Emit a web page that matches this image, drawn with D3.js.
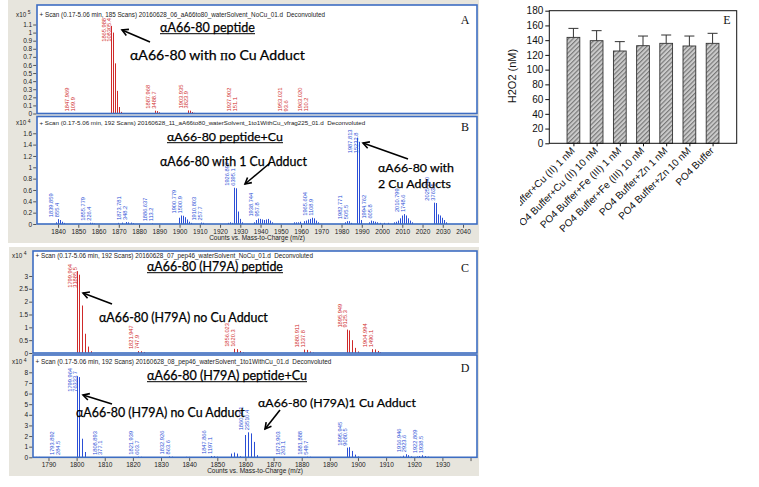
<!DOCTYPE html>
<html><head><meta charset="utf-8">
<script src="https://cdn.jsdelivr.net/npm/d3@7"></script>
<style>body{margin:0;background:#fff}svg{display:block}</style>
</head><body><svg id="c" width="759" height="487"></svg>
<script>
// ---------------- DATA ----------------
// Panel A (x10^5 counts)
const mzA = [1847.969,1865.988,1866.99,1867.99,1868.99,1869.99,1870.99,1887.968,1888.97,1889.97,1903.935,1904.94,1905.94,1906.94,1927.902,1953.021,1963.020];
const countsA = [0.0011,1.0831,1.0,0.62,0.28,0.08,0.02,0.0349,0.03,0.015,0.0382,0.035,0.018,0.008,0.0015,0.0009,0.0011];
const labelsA = [["1847.969","109.9"],["1865.988","108305.4"],["1887.968","3488.7"],["1903.935","3823.9"],["1927.902","151.1"],["1953.021","93.6"],["1963.020","110.2"]];
// Panel B (x10^4 counts)
const mzB = [1838.86,1839.859,1840.86,1841.86,1842.86, 1855.779,1856.78,1857.78, 1869.78,1871.78,1873.781,1874.78,1875.78,1876.78, 1886.637,
  1899.78,1900.779,1901.78,1902.78,1903.78,1904.78,1905.78, 1910.803,1911.8, 1923.9,1924.9,1925.9, 1926.897,1927.9,1928.9,1929.9,1930.9,
  1936.74,1937.74,1938.744,1939.74,1940.74,1941.74,1942.74,1943.74,1944.74,1945.74,
  1956.6,1957.6,1958.6,1959.6,1961.6,1962.6,1963.6,1964.6,1965.604,1966.6,1967.6,1968.6,
  1981.77,1982.771,1983.77,1984.77, 1987.813,1988.81,1989.81, 1993.76,1994.762,1995.76,1996.76,1997.76,1998.76,2000.8,2002.8,
  2005.8,2006.8,2007.8,2008.8,2009.8,2010.799,2011.8,2012.8,2013.8,2014.8, 2025.76,2026.76,2027.76,2028.76,2029.76,2030.76,2031.76];
const countsB = [0.03,0.0855,0.07,0.04,0.02, 0.0226,0.02,0.01, 0.02,0.025,0.0348,0.03,0.025,0.015, 0.0113,
  0.11,0.1501,0.145,0.12,0.08,0.04,0.02, 0.0258,0.02, 0.02,0.03,0.02, 0.6395,0.63,0.22,0.09,0.03,
  0.03,0.07,0.0958,0.09,0.08,0.07,0.08,0.09,0.06,0.03,
  0.03,0.03,0.03,0.04,0.05,0.06,0.08,0.09,0.1109,0.1,0.06,0.03,
  0.03,0.0506,0.05,0.02, 1.5233,1.45,0.07, 0.03,0.0606,0.05,0.04,0.03,0.02,0.02,0.02,
  0.03,0.04,0.06,0.1,0.15,0.1749,0.15,0.1,0.06,0.03, 0.3763,0.37,0.17,0.15,0.11,0.07,0.03];
const labelsB = [["1839.859","855.4"],["1855.779","226.4"],["1873.781","348.2"],["1886.637","113.2"],["1900.779","1500.9"],["1910.803","257.7"],
  ["1926.897","6395.1"],["1938.744","957.8"],["1965.604","1108.9"],["1982.771","505.5"],["1987.813","15232.8"],["1994.762","605.8"],
  ["2010.799","1748.6"],["2025.760","3763.5"]];
// Panel C (x10^4 counts)
const mzC = [1799.964,1800.967,1801.97,1802.97,1803.97,1804.97, 1821.947,1822.95,1823.95, 1856.023,1857.02,1858.02,1859.02,
  1880.911,1881.91,1882.91,1883.91, 1895.949,1896.95,1897.95,1898.95,1899.95, 1904.994,1905.99,1906.99,1907.99];
const countsC = [3.1886,3.05,1.85,0.75,0.25,0.07, 0.0748,0.07,0.04, 0.162,0.15,0.08,0.03,
  0.1338,0.12,0.06,0.02, 0.9125,0.88,0.5,0.2,0.06, 0.149,0.14,0.08,0.03];
const labelsC = [["1799.964","31885.5"],["1821.947","747.9"],["1856.023","1620.3"],["1880.911","1337.8"],["1895.949","9125.3"],["1904.994","1490.1"]];
// Panel D (x10^4 counts)
const mzD = [1785.5,1786.5, 1793.892,1794.9, 1799.964,1800.97,1801.97,1802.97, 1808.893,1809.9, 1821.939,1822.94, 1832.926,1833.93,
  1838.9,1839.9, 1847.866,1848.87,1849.87, 1854.9,1855.9,1856.9,1857.9, 1859.95,1860.951,1861.95,1862.95,1863.95,
  1873.903,1874.9, 1881.888,1882.89, 1895.945,1896.95,1897.95,1898.95,1899.95, 1905.9,
  1914.95,1915.95,1916.946,1917.95,1918.95, 1920.8,1921.8,1922.809,1923.8,1924.8,1925.8, 1938.9];
const countsD = [0.04,0.04, 0.0285,0.02, 7.6334,7.55,1.75,0.5, 0.0377,0.03, 0.0604,0.05, 0.0864,0.06,
  0.05,0.04, 0.1197,0.1,0.06, 0.35,0.45,0.35,0.1, 2.1,2.3510,2.25,1.45,0.2,
  0.0263,0.02, 0.055,0.05, 0.908,0.95,0.6,0.25,0.08, 0.03,
  0.05,0.15,0.2924,0.2,0.08, 0.08,0.12,0.1939,0.12,0.06,0.03, 0.03];
const labelsD = [["1793.892","284.5"],["1799.964","76333.7"],["1808.893","377.1"],["1821.939","603.7"],["1832.926","863.6"],["1847.866","1197.1"],
  ["1860.951","23510.4"],["1873.903","263.1"],["1881.888","549.7"],["1895.945","9080.5"],["1916.946","2923.6"],["1922.809","1938.5"]];
// tick labels
const xTicksTop = [1840,1850,1860,1870,1880,1890,1900,1910,1920,1930,1940,1950,1960,1970,1980,1990,2000,2010,2020,2030,2040];
const xTicksBottom = [1790,1800,1810,1820,1830,1840,1850,1860,1870,1880,1890,1900,1910,1920,1930,1940];
const yTicksA = [0,0.1,0.2,0.3,0.4,0.5,0.6,0.7,0.8,0.9,1,1.1];
const yTicksB = [0,0.2,0.4,0.6,0.8,1,1.2,1.4,1.6];
const yTicksC = [0,0.5,1,1.5,2,2.5,3];
const yTicksD = [0,1,2,3,4,5,6,7,8];
// Panel E
const categoriesE = ["PO4 Buffer+Cu (II) 1 nM","PO4 Buffer+Cu (II) 10 nM","PO4 Buffer+Fe (III) 1 nM","PO4 Buffer+Fe (III) 10 nM","PO4 Buffer+Zn 1 nM","PO4 Buffer+Zn 10 nM","PO4 Buffer"];
const valuesE = [143.8,139.3,125.3,132.5,135.7,132.1,135.7];
const errorsE = [12.2,13.6,12.7,13.1,11.3,13.5,13.6];
const yTicksE = [0,20,40,60,80,100,120,140,160,180];

// ---------------- DRAW ----------------
const svg = d3.select("#c");
const FMS = "'Liberation Sans', Arial, sans-serif";
const FNOTE = "Lato, 'Noto Sans', sans-serif";
const FSERIF = "'Liberation Serif', 'Times New Roman', serif";
const BLUE = "#3d6dc2";
svg.append("rect").attr("width",759).attr("height",487).attr("fill","#fff");
svg.append("rect").attr("x",8).attr("y",0).attr("width",471).attr("height",243).attr("fill","#e7e5dd");
svg.append("rect").attr("x",9).attr("y",247).attr("width",470).attr("height",229).attr("fill","#e7e5dd");
const defs = svg.append("defs");

function fit(sel, width){
  const len = sel.node().getComputedTextLength();
  const fs = parseFloat(sel.attr("font-size"));
  if (len > 0) sel.attr("font-size", (fs*width/len).toFixed(2));
}

function drawMS(p){
  const x = d3.scaleLinear().domain(p.xDomain).range([p.left,p.right]);
  const y = d3.scaleLinear().domain([0,p.yMax]).range([p.bottom,p.top]);
  const g = svg.append("g");
  g.append("rect").attr("x",p.left).attr("y",p.top).attr("width",p.right-p.left).attr("height",p.bottom-p.top).attr("fill","#fff");
  defs.append("clipPath").attr("id","clip"+p.letter).append("rect")
    .attr("x",p.left).attr("y",p.top).attr("width",p.right-p.left).attr("height",p.bottom-p.top);
  const plot = g.append("g").attr("clip-path",`url(#clip${p.letter})`);
  plot.selectAll("line.pk").data(d3.zip(p.mz,p.counts)).join("line").attr("class","pk")
    .attr("x1",d=>Math.round(x(d[0]))+0.5).attr("x2",d=>Math.round(x(d[0]))+0.5)
    .attr("y1",y(0)).attr("y2",d=>y(d[1])).attr("stroke",p.color).attr("stroke-width",1);
  p.labels.forEach(([m,c])=>{
    const px = x(+m), py = y(+c/p.scale);
    const t1 = plot.append("text").text(m), t2 = plot.append("text").text(c);
    [t1,t2].forEach(t=>t.attr("font-family",FMS).attr("font-size",5.7).attr("fill",p.color));
    const len = Math.max(t1.node().getComputedTextLength(), t2.node().getComputedTextLength());
    let b = py - 2;
    if (b - len < p.top + 13) b = p.top + 13 + len;
    t1.attr("transform",`translate(${px-5},${b}) rotate(-90)`);
    t2.attr("transform",`translate(${px+0.8},${b}) rotate(-90)`);
  });
  const h = g.append("text").attr("x",p.left+2.5).attr("y",p.headerY).attr("font-family",FMS).attr("font-size",6.3)
    .attr("fill","#222").attr("xml:space","preserve").text(p.header);
  fit(h, p.headerEnd - p.left - 2.5);
  g.append("rect").attr("x",p.left).attr("y",p.top).attr("width",p.right-p.left).attr("height",p.bottom-p.top)
    .attr("fill","none").attr("stroke",BLUE).attr("stroke-width",1.6);
  g.append("text").attr("x",465).attr("y",p.letterY).attr("text-anchor","middle").attr("font-family",FSERIF)
    .attr("font-size",12).attr("fill","#111").text(p.letter);
  const ya = d3.axisLeft(y).tickValues(p.yTicks).tickSize(3).tickPadding(1).tickFormat(d=>String(d));
  const yg = g.append("g").attr("transform",`translate(${p.left-0.8},0)`).call(ya);
  yg.select(".domain").remove();
  yg.selectAll("text").attr("font-size",6.5).attr("font-family",FMS).attr("fill","#222");
  yg.selectAll("line").attr("stroke","#555");
  const ex = g.append("text").attr("x",p.left-21).attr("y",p.headerY).attr("font-family",FMS).attr("font-size",6.3).attr("fill","#222");
  ex.append("tspan").text("x10");
  ex.append("tspan").attr("dx",1.5).attr("dy",-2.5).attr("font-size",5).text(p.exp);
  if (p.xTicks){
    const xa = d3.axisBottom(x).tickValues(p.xTicks).tickSize(3).tickPadding(1.5).tickFormat(d=>p.xTickLabelMax && d>p.xTickLabelMax ? "" : String(d));
    const xg = g.append("g").attr("transform",`translate(0,${p.bottom+0.8})`).call(xa);
    xg.select(".domain").remove();
    xg.selectAll("text").attr("font-size",6.5).attr("font-family",FMS).attr("fill","#222");
    xg.selectAll("line").attr("stroke","#555");
    g.append("text").attr("x",(p.left+p.right)/2).attr("y",p.bottom+16).attr("text-anchor","middle")
      .attr("font-family",FMS).attr("font-size",6.5).attr("fill","#222").text("Counts vs. Mass-to-Charge (m/z)");
  }
}

const topDomain = [1829.6, 2046.9];
const botDomain = [1784.5, 1942.3];
drawMS({letter:"A",left:37,right:477,top:5,bottom:113.5,xDomain:topDomain,yMax:(113.5-5)/80.9,yTicks:yTicksA,scale:1e5,exp:"5",
  mz:mzA,counts:countsA,labels:labelsA,color:"#cf2a2a",headerY:16.5,headerEnd:325,letterY:24,
  header:"+ Scan (0.17-5.06 min, 185 Scans) 20160628_06_aA66to80_waterSolvent_NoCu_01.d  Deconvoluted"});
drawMS({letter:"B",left:37,right:477,top:116.5,bottom:224,xDomain:topDomain,yMax:(224-116.5)/56.7,yTicks:yTicksB,scale:1e4,exp:"4",
  mz:mzB,counts:countsB,labels:labelsB,color:"#2b4fd6",headerY:125,headerEnd:365,letterY:131,xTicks:xTicksTop,
  header:"+ Scan (0.17-5.06 min, 192 Scans) 20160628_11_aA66to80_waterSolvent_1to1WithCu_vfrag225_01.d  Deconvoluted"});
drawMS({letter:"C",left:33,right:477,top:251,bottom:353,xDomain:botDomain,yMax:(353-251)/25.67,yTicks:yTicksC,scale:1e4,exp:"4",
  mz:mzC,counts:countsC,labels:labelsC,color:"#cf2a2a",headerY:257.5,headerEnd:313,letterY:271.5,
  header:"+ Scan (0.17-5.06 min, 192 Scans) 20160628_07_pep46_waterSolvent_NoCu_01.d  Deconvoluted"});
drawMS({letter:"D",left:33,right:477,top:355,bottom:457.3,xDomain:botDomain,yMax:(457.3-355)/10.625,yTicks:yTicksD,scale:1e4,exp:"4",
  mz:mzD,counts:countsD,labels:labelsD,color:"#2b4fd6",headerY:364,headerEnd:331,letterY:372,xTicks:xTicksBottom,xTickLabelMax:1930,
  header:"+ Scan (0.17-5.06 min, 192 Scans) 20160628_08_pep46_waterSolvent_1to1WithCu_01.d  Deconvoluted"});

// annotations
const notes = [
  {parts:["αA66-80 peptide"],x:160,w:95,y:31.5,u:true},
  {parts:["αA66-80 with ",["п"],"o Cu Adduct"],x:130,w:175,y:59.5},
  {parts:["αA66-80 peptide+Cu"],x:167,w:116,y:140.5,u:true},
  {parts:["αA66-80 with 1 Cu Adduct"],x:160,w:147,y:165.5},
  {parts:["αA66-80 with"],x:378,w:76,y:171.5},
  {parts:["2 Cu Adducts"],x:378,w:73,y:187.5},
  {parts:["αA66-80 (H79A) peptide"],x:147,w:136,y:270.5,u:true},
  {parts:["αA66-80 (H79A) no Cu Adduct"],x:99,w:169,y:321.5},
  {parts:["αA66-80 (H79A) peptide+Cu"],x:147,w:160,y:379.5,u:true},
  {parts:["αA66-80 (H79A) no Cu Adduct"],x:76,w:169,y:416.5},
  {parts:["αA66-80 (H79A)1 Cu Adduct"],x:258,w:158,y:406.5}
];
notes.forEach(n=>{
  const t = svg.append("text").attr("x",n.x).attr("y",n.y).attr("font-family",FNOTE).attr("font-size",14).attr("fill","#000")
    .attr("stroke","#000").attr("stroke-width",0.25).attr("xml:space","preserve");
  n.parts.forEach(pt=>{
    if (Array.isArray(pt)) t.append("tspan").attr("font-family",FSERIF).text(pt[0]);
    else t.append("tspan").text(pt);
  });
  fit(t, n.w);
  if (n.u) svg.append("line").attr("x1",n.x).attr("x2",n.x+n.w).attr("y1",n.y+2.2).attr("y2",n.y+2.2).attr("stroke","#000").attr("stroke-width",1);
});
const arrows = [[150,42,122,30],[270,163,245,184],[408,159,363,143],[112,304,83,293],[112,404,83,395],[280,410,265,429]];
arrows.forEach(([x1,y1,x2,y2])=>{
  svg.append("line").attr("x1",x1).attr("y1",y1).attr("x2",x2).attr("y2",y2).attr("stroke","#000").attr("stroke-width",1.6);
  const a = Math.atan2(y2-y1,x2-x1), L = 7, s = 0.5;
  const p1 = [x2-L*Math.cos(a-s), y2-L*Math.sin(a-s)], p2 = [x2-L*Math.cos(a+s), y2-L*Math.sin(a+s)];
  svg.append("path").attr("d",`M${p1}L${x2},${y2}L${p2}`).attr("fill","none").attr("stroke","#000").attr("stroke-width",1.6);
});

// ---------------- PANEL E ----------------
const eL = 549.3, eR = 736.7, eT = 10.7, eB = 143.3;
defs.append("clipPath").attr("id","clipE").append("rect").attr("x",520).attr("y",0).attr("width",239).attr("height",250);
const xE = d3.scalePoint().domain(categoriesE).range([eL,eR]).padding(1.04);
const yE = d3.scaleLinear().domain([0,180]).range([eB,eT]);
const pat = defs.append("pattern").attr("id","hatch").attr("patternUnits","userSpaceOnUse").attr("width",3.2).attr("height",3.2)
  .attr("patternTransform","rotate(45)");
pat.append("rect").attr("width",3.2).attr("height",3.2).attr("fill","#cbcbcb");
pat.append("line").attr("x1",0.6).attr("x2",0.6).attr("y1",0).attr("y2",3.2).attr("stroke","#747474").attr("stroke-width",1.1);
const bw = xE.step()*0.55;
const gE = svg.append("g").attr("clip-path","url(#clipE)");
gE.selectAll("rect.bar").data(categoriesE).join("rect").attr("class","bar")
  .attr("x",d=>xE(d)-bw/2).attr("y",(d,i)=>yE(valuesE[i])).attr("width",bw).attr("height",(d,i)=>yE(0)-yE(valuesE[i]))
  .attr("fill","url(#hatch)").attr("stroke","#333").attr("stroke-width",0.9);
gE.selectAll("path.err").data(categoriesE).join("path").attr("class","err")
  .attr("d",(d,i)=>{const cx=xE(d), t=yE(valuesE[i]+errorsE[i]), b=yE(valuesE[i]); return `M${cx},${b}V${t}M${cx-5},${t}H${cx+5}`;})
  .attr("fill","none").attr("stroke","#333").attr("stroke-width",1);
gE.append("rect").attr("x",eL).attr("y",eT).attr("width",eR-eL).attr("height",eB-eT).attr("fill","none").attr("stroke","#111").attr("stroke-width",1);
const yaE = gE.append("g").attr("transform",`translate(${eL},0)`).call(d3.axisLeft(yE).tickValues(yTicksE).tickSize(4).tickPadding(2));
yaE.select(".domain").remove();
yaE.selectAll("text").attr("font-family",FMS).attr("font-size",10).attr("fill","#111");
yaE.selectAll("line").attr("stroke","#111");
const xaE = gE.append("g").attr("transform",`translate(0,${eB})`).call(d3.axisBottom(xE).tickSize(3).tickFormat(""));
xaE.select(".domain").remove();
xaE.selectAll("line").attr("stroke","#111");
gE.selectAll("text.cat").data(categoriesE).join("text").attr("class","cat")
  .attr("transform",d=>`translate(${xE(d)+2},${eB+8}) rotate(-45)`).attr("text-anchor","end")
  .attr("font-family",FMS).attr("font-size",10).attr("fill","#111").text(d=>d);
svg.append("text").attr("transform","translate(516,76) rotate(-90)").attr("text-anchor","middle")
  .attr("font-family",FMS).attr("font-size",11).attr("fill","#111").text("H2O2 (nM)");
svg.append("text").attr("x",727).attr("y",24).attr("text-anchor","middle").attr("font-family",FSERIF).attr("font-size",12).attr("fill","#111").text("E");
</script></body></html>
